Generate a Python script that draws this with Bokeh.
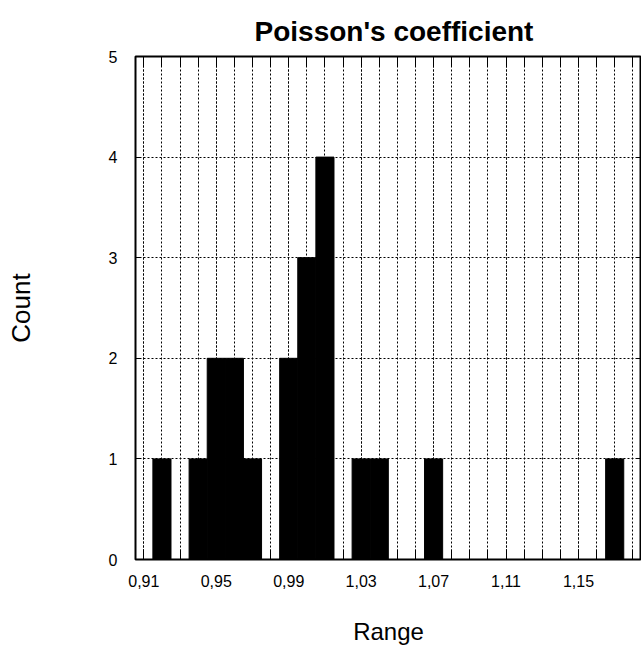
from bokeh.plotting import figure
from bokeh.models import FixedTicker, LinearAxis, CustomJSTickFormatter, Range1d
from bokeh.embed import file_html
from bokeh.resources import INLINE

# ---- data ----
bin_centers = [0.92, 0.94, 0.95, 0.96, 0.97, 0.99, 1.00, 1.01, 1.03, 1.04, 1.07, 1.17]
counts = [1, 1, 2, 2, 1, 2, 3, 4, 1, 1, 1, 1]
bin_width = 0.01
x_label_ticks = [0.91, 0.95, 0.99, 1.03, 1.07, 1.11, 1.15]
x_grid_ticks = [0.91, 0.92, 0.93, 0.94, 0.95, 0.96, 0.97, 0.98, 0.99, 1.00,
                1.01, 1.02, 1.03, 1.04, 1.05, 1.06, 1.07, 1.08, 1.09, 1.10,
                1.11, 1.12, 1.13, 1.14, 1.15, 1.16, 1.17, 1.18]
y_ticks = [0, 1, 2, 3, 4, 5]

FONT = "Liberation Sans"

p = figure(width=641, height=647,
           x_range=Range1d(0.9054, 1.1848), y_range=Range1d(0, 5),
           output_backend="svg", toolbar_location=None,
           min_border_left=135, min_border_right=0,
           min_border_top=56, min_border_bottom=0)

p.background_fill_color = "white"
p.border_fill_color = "white"
p.outline_line_color = "black"
p.outline_line_width = 2

# title
p.title.text = "Poisson's coefficient"
p.title.text_font = FONT
p.title.text_font_size = "28px"
p.title.text_font_style = "bold"
p.title.text_color = "black"
p.title.align = "left"
p.title.offset = 119
p.title.standoff = 20

# bars
p.vbar(x=bin_centers, width=bin_width, top=counts, bottom=0,
       fill_color="black", line_color="black", line_width=1)

xt = FixedTicker(ticks=x_label_ticks, minor_ticks=x_grid_ticks)
yt = FixedTicker(ticks=y_ticks, minor_ticks=[])

fmt = CustomJSTickFormatter(code="return tick.toFixed(2).replace('.', ',');")

# grids
for g, t in ((p.xgrid, xt), (p.ygrid, yt)):
    g.ticker = t
    g.grid_line_color = "black"
    g.grid_line_dash = "2 2"
    g.grid_line_width = 1
p.xgrid.minor_grid_line_color = "black"
p.xgrid.minor_grid_line_dash = "2 2"
p.xgrid.minor_grid_line_width = 1
p.xgrid.level = "underlay"
p.ygrid.level = "underlay"

# bottom axis
xa = p.xaxis[0]
xa.ticker = xt
xa.formatter = fmt
xa.axis_line_color = None
xa.major_tick_in = 10
xa.major_tick_out = 0
xa.minor_tick_in = 10
xa.minor_tick_out = 0
xa.major_tick_line_color = "black"
xa.minor_tick_line_color = "black"
xa.major_label_standoff = 15
xa.major_label_text_font = FONT
xa.major_label_text_font_size = "16px"
xa.major_label_text_color = "black"
xa.axis_label = "Range"
xa.axis_label_text_font = FONT
xa.axis_label_text_font_size = "24px"
xa.axis_label_text_font_style = "normal"
xa.axis_label_text_color = "black"
xa.axis_label_standoff = 28

# left axis
ya = p.yaxis[0]
ya.ticker = yt
ya.axis_line_color = None
ya.major_tick_in = 5
ya.major_tick_out = 0
ya.minor_tick_line_color = None
ya.major_tick_line_color = "black"
ya.major_label_standoff = 18
ya.major_label_text_font = FONT
ya.major_label_text_font_size = "16px"
ya.major_label_text_color = "black"
ya.axis_label = "Count"
ya.axis_label_text_font = FONT
ya.axis_label_text_font_size = "26px"
ya.axis_label_text_font_style = "normal"
ya.axis_label_text_color = "black"
ya.axis_label_standoff = 70

# top and right tick-only axes
top = LinearAxis(ticker=xt, axis_line_color=None,
                 major_tick_in=10, major_tick_out=0,
                 minor_tick_in=10, minor_tick_out=0,
                 major_tick_line_color="black", minor_tick_line_color="black",
                 major_label_text_font_size="0px", major_label_standoff=0,
                 major_label_text_alpha=0)
p.add_layout(top, "above")
right = LinearAxis(ticker=yt, axis_line_color=None,
                   major_tick_in=5, major_tick_out=0,
                   minor_tick_line_color=None,
                   major_tick_line_color="black",
                   major_label_text_font_size="0px", major_label_standoff=0,
                   major_label_text_alpha=0)
p.add_layout(right, "right")

open("out.html", "w").write(file_html(p, INLINE))
